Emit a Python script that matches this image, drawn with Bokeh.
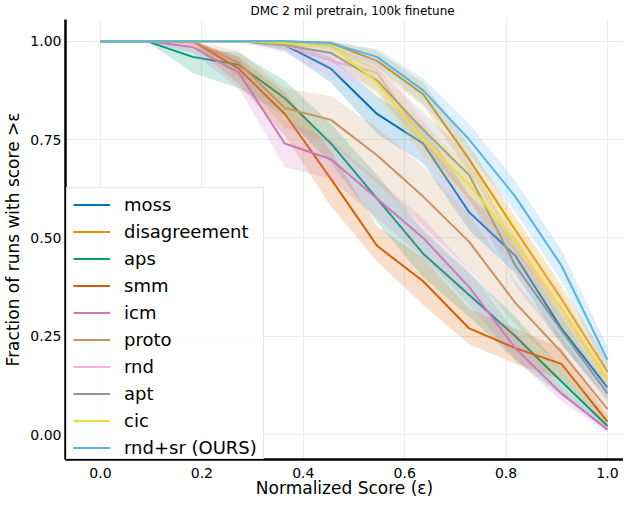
from bokeh.plotting import figure
from bokeh.models import Range1d, FixedTicker, Legend, LegendItem, Title
from bokeh.embed import file_html
from bokeh.resources import INLINE

# Normalized score thresholds
xs = [0.0, 0.0909, 0.1818, 0.2727, 0.3636, 0.4545, 0.5455, 0.6364, 0.7273, 0.8182, 0.9091, 1.0]

names = ["moss", "disagreement", "aps", "smm", "icm", "proto", "rnd", "apt", "cic", "rnd+sr (OURS)"]
colors = ["#0173b2", "#de8f05", "#029e73", "#d55e00", "#cc78bc",
          "#ca9161", "#fbafe4", "#949494", "#ece133", "#56b4e9"]

moss = [1, 1, 1, 1, 0.99, 0.93, 0.815, 0.74, 0.565, 0.455, 0.27, 0.12]
moss_lo = [1, 1, 1, 1, 0.975, 0.895, 0.765, 0.69, 0.52, 0.41, 0.23, 0.09]
moss_hi = [1, 1, 1, 1, 1, 0.96, 0.86, 0.785, 0.61, 0.50, 0.31, 0.15]

disagreement = [1, 1, 1, 1, 1, 0.995, 0.95, 0.865, 0.70, 0.52, 0.345, 0.16]
disagreement_lo = [1, 1, 1, 1, 0.99, 0.98, 0.925, 0.835, 0.665, 0.485, 0.31, 0.13]
disagreement_hi = [1, 1, 1, 1, 1, 1, 0.975, 0.895, 0.735, 0.555, 0.38, 0.19]

aps = [1, 1, 0.96, 0.94, 0.855, 0.74, 0.60, 0.46, 0.355, 0.25, 0.135, 0.022]
aps_lo = [1, 1, 0.92, 0.88, 0.81, 0.69, 0.54, 0.40, 0.30, 0.19, 0.10, 0.01]
aps_hi = [1, 1, 0.985, 0.97, 0.90, 0.79, 0.66, 0.52, 0.41, 0.30, 0.17, 0.035]

smm = [1, 1, 1, 0.93, 0.815, 0.65, 0.48, 0.39, 0.27, 0.22, 0.18, 0.033]
smm_lo = [1, 1, 0.99, 0.89, 0.76, 0.58, 0.44, 0.33, 0.23, 0.18, 0.14, 0.02]
smm_hi = [1, 1, 1, 0.96, 0.87, 0.72, 0.53, 0.45, 0.32, 0.27, 0.22, 0.05]

icm = [1, 1, 0.985, 0.92, 0.74, 0.70, 0.60, 0.50, 0.375, 0.22, 0.105, 0.013]
icm_lo = [1, 1, 0.97, 0.88, 0.68, 0.65, 0.55, 0.45, 0.33, 0.19, 0.085, 0.005]
icm_hi = [1, 1, 1, 0.96, 0.80, 0.75, 0.65, 0.55, 0.42, 0.26, 0.125, 0.02]

proto = [1, 1, 1, 0.945, 0.83, 0.80, 0.71, 0.605, 0.49, 0.335, 0.21, 0.065]
proto_lo = [1, 1, 0.99, 0.91, 0.78, 0.74, 0.64, 0.53, 0.42, 0.28, 0.17, 0.04]
proto_hi = [1, 1, 1, 0.975, 0.88, 0.86, 0.78, 0.68, 0.56, 0.39, 0.25, 0.09]

rnd = [1, 1, 1, 1, 0.99, 0.95, 0.92, 0.75, 0.60, 0.47, 0.32, 0.14]
rnd_lo = [1, 1, 1, 0.995, 0.97, 0.91, 0.88, 0.70, 0.55, 0.43, 0.28, 0.12]
rnd_hi = [1, 1, 1, 1, 1, 0.98, 0.955, 0.80, 0.65, 0.51, 0.36, 0.16]

apt = [1, 1, 1, 1, 0.99, 0.97, 0.90, 0.775, 0.66, 0.43, 0.265, 0.105]
apt_lo = [1, 1, 1, 1, 0.98, 0.95, 0.87, 0.73, 0.60, 0.38, 0.23, 0.085]
apt_hi = [1, 1, 1, 1, 1, 0.99, 0.93, 0.82, 0.71, 0.48, 0.30, 0.125]

cic = [1, 1, 1, 1, 0.995, 0.99, 0.895, 0.75, 0.635, 0.49, 0.32, 0.14]
cic_lo = [1, 1, 1, 1, 0.985, 0.975, 0.86, 0.71, 0.59, 0.45, 0.28, 0.12]
cic_hi = [1, 1, 1, 1, 1, 1, 0.93, 0.79, 0.68, 0.54, 0.36, 0.16]

rnd_sr = [1, 1, 1, 1, 1, 0.995, 0.96, 0.875, 0.75, 0.605, 0.43, 0.19]
rnd_sr_lo = [1, 1, 1, 1, 1, 0.985, 0.935, 0.84, 0.71, 0.565, 0.39, 0.155]
rnd_sr_hi = [1, 1, 1, 1, 1, 1, 0.98, 0.905, 0.79, 0.645, 0.47, 0.225]

x_ticks = [0.0, 0.2, 0.4, 0.6, 0.8, 1.0]
y_ticks = [0.0, 0.25, 0.5, 0.75, 1.0]
y_tick_labels = {0.0: "0.00", 0.25: "0.25", 0.5: "0.50", 0.75: "0.75", 1.0: "1.00"}
x_tick_labels = {0.0: "0.0", 0.2: "0.2", 0.4: "0.4", 0.6: "0.6", 0.8: "0.8", 1.0: "1.0"}

series = [
    (moss, moss_lo, moss_hi),
    (disagreement, disagreement_lo, disagreement_hi),
    (aps, aps_lo, aps_hi),
    (smm, smm_lo, smm_hi),
    (icm, icm_lo, icm_hi),
    (proto, proto_lo, proto_hi),
    (rnd, rnd_lo, rnd_hi),
    (apt, apt_lo, apt_hi),
    (cic, cic_lo, cic_hi),
    (rnd_sr, rnd_sr_lo, rnd_sr_hi),
]

FONT = "DejaVu Sans"

p = figure(width=623, height=500, output_backend="svg", toolbar_location=None,
           x_range=Range1d(-0.069, 1.0316), y_range=Range1d(-0.063, 1.055),
           min_border_left=57, min_border_right=0, min_border_top=18, min_border_bottom=0,
           title=None)
p.outline_line_color = None
p.background_fill_color = "white"

title = Title(text="DMC 2 mil pretrain, 100k finetune", align="left", offset=185,
              text_font=FONT, text_font_size="12px", text_font_style="normal",
              text_color="black", standoff=3)
p.add_layout(title, "above")

items = []
for name, color, (y, lo, hi) in zip(names, colors, series):
    p.varea(x=xs, y1=lo, y2=hi, fill_color=color, fill_alpha=0.2)
    r = p.line(x=xs, y=y, line_color=color, line_width=2)
    items.append(LegendItem(label=name, renderers=[r]))

for ax in (p.xaxis[0], p.yaxis[0]):
    ax.major_tick_in = 0
    ax.major_tick_out = 0
    ax.minor_tick_in = 0
    ax.minor_tick_out = 0
    ax.axis_line_color = "black"
    ax.axis_line_width = 2.5
    ax.major_label_text_font = FONT
    ax.major_label_text_font_size = "14px"
    ax.major_label_text_color = "black"
    ax.axis_label_text_font = FONT
    ax.axis_label_text_font_size = "17px"
    ax.axis_label_text_font_style = "normal"
    ax.axis_label_text_color = "black"

p.xaxis.ticker = FixedTicker(ticks=x_ticks)
p.xaxis.major_label_overrides = x_tick_labels
p.yaxis.ticker = FixedTicker(ticks=y_ticks)
p.yaxis.major_label_overrides = y_tick_labels
p.xaxis.axis_label = "Normalized Score (ε)"
p.yaxis.axis_label = "Fraction of runs with score >ε"
p.xaxis.major_label_standoff = 8
p.xaxis.axis_label_standoff = -3
p.yaxis.major_label_standoff = 4
p.yaxis.axis_label_standoff = 4

p.xgrid.grid_line_color = "#ebebeb"
p.ygrid.grid_line_color = "#ebebeb"
p.xgrid.grid_line_width = 1
p.ygrid.grid_line_width = 1

legend = Legend(items=items, location=(1, -6))
legend.label_text_font = FONT
legend.label_text_font_size = "18px"
legend.label_text_color = "black"
legend.glyph_width = 37
legend.glyph_height = 21
legend.label_height = 21
legend.label_standoff = 14
legend.spacing = 6
legend.padding = 6
legend.margin = 0
legend.border_line_color = "#cccccc"
legend.border_line_width = 1
legend.background_fill_color = "white"
legend.background_fill_alpha = 0.85
p.add_layout(legend, "center")

with open("out.html", "w") as f:
    f.write(file_html(p, INLINE))
